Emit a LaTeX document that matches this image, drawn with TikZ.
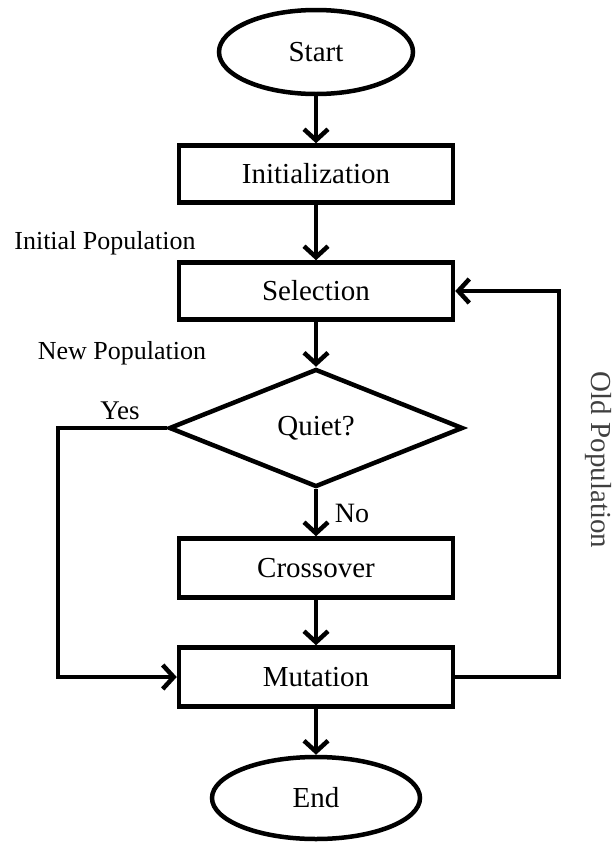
\documentclass[tikz,border=0pt]{standalone}
\usepackage{fontspec}
\setmainfont{Liberation Serif}
\usetikzlibrary{shapes.geometric,arrows.meta}

\begin{document}
\begin{tikzpicture}[x=1pt,y=-1pt,>={Straight Barb[length=11pt,width=24pt]},
	box/.style={draw,line width=4.5pt,rectangle,minimum width=274pt,minimum height=57pt,font=\fontsize{29}{32}\selectfont},
	term/.style={draw,line width=4.5pt,ellipse,font=\fontsize{29}{32}\selectfont},
	arr/.style={->,line width=4.5pt},
	lbl/.style={font=\fontsize{26}{30}\selectfont}]
	\useasboundingbox (0,0) rectangle (616,844);
	
	%terminals and boxes
	\node[term,minimum width=194pt,minimum height=84pt] (start) at (316,52) {Start};
	\node[box] (init) at (316,174) {Initialization};
	\node[box] (sel) at (316,291) {Selection};
	\node[draw,line width=4.5pt,diamond,aspect=2.5,inner sep=0pt,minimum width=294pt,minimum height=118pt,font=\fontsize{29}{32}\selectfont] (quiet) at (316,428) {Quiet?};
	\node[box,minimum height=59pt] (cross) at (316,568) {Crossover};
	\node[box,minimum height=59pt] (mut) at (316,677) {Mutation};
	\node[term,minimum width=208pt,minimum height=82pt] (end) at (316,798) {End};
	
	%main flow
	\draw[arr] (start) -- (init);
	\draw[arr] (init) -- (sel);
	\draw[arr] (sel) -- (quiet);
	\draw[arr] (quiet) -- (cross);
	\draw[arr] (cross) -- (mut);
	\draw[arr] (mut) -- (end);
	
	%loops
	\coordinate (yesc) at (58,550);
	\coordinate (oldc) at (559,480);
	\draw[arr] (quiet.west) -| (yesc) |- (mut.west);
	\draw[arr] (mut.east) -| (oldc) |- (sel.east);
	
	%labels
	\node[lbl] (ipop) at (105,243) {Initial Population};
	\node[lbl] (npop) at (122,353) {New Population};
	\node[lbl,font=\fontsize{27}{30}\selectfont] (yes) at (120,411) {Yes};
	\node[lbl,font=\fontsize{28}{30}\selectfont] (no) at (352,513) {No};
	\node[lbl,font=\fontsize{29}{32}\selectfont,text=black!75,rotate=-90] (opop) at (598,460) {Old Population};
\end{tikzpicture}
\end{document}
